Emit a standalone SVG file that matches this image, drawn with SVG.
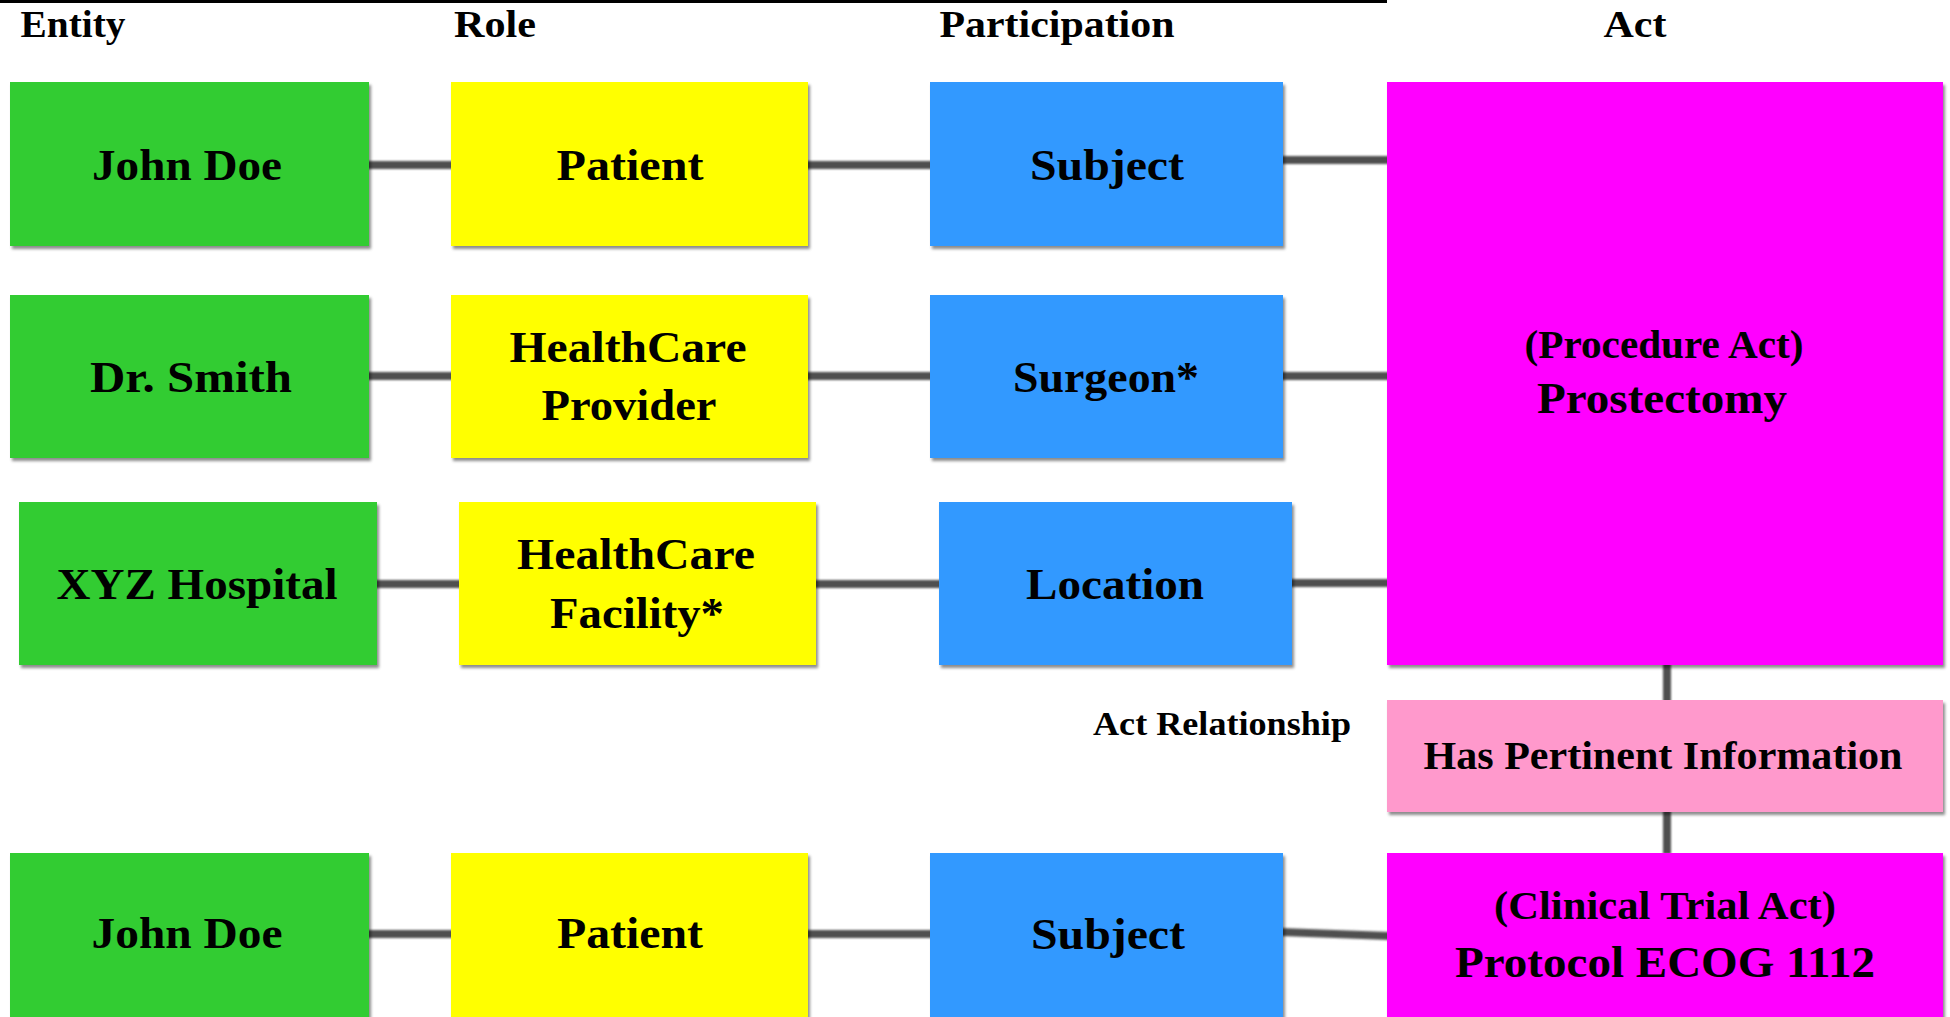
<svg xmlns="http://www.w3.org/2000/svg" width="1950" height="1017" viewBox="0 0 1950 1017">
<defs>
<filter id="sh" x="-5%" y="-5%" width="110%" height="115%">
<feDropShadow dx="2" dy="3" stdDeviation="1.5" flood-color="#000" flood-opacity="0.45"/>
</filter>
<filter id="lsh" x="-5%" y="-50%" width="110%" height="200%">
<feGaussianBlur stdDeviation="0.8"/>
</filter>
</defs>
<style>
text{font-family:"Liberation Serif","Times New Roman",serif;font-weight:bold;fill:#000;text-anchor:middle}
.hd{font-size:37px}
.lb{font-size:45px}
.sm{font-size:39px}
.ar{font-size:33px}
.g{fill:#33CC33}
.y{fill:#FFFF00}
.b{fill:#3399FF}
.m{fill:#FF00FF}
.p{fill:#FF99CC}
.box{filter:url(#sh)}
.c{stroke:#505050;stroke-width:8;fill:none}
</style>
<rect x="0" y="0" width="1950" height="1017" fill="#fff"/>
<line x1="0" y1="1.5" x2="1387" y2="1.5" stroke="#000" stroke-width="3"/>
<g id="headers">
<text class="hd" x="73" y="37" textLength="105" lengthAdjust="spacingAndGlyphs">Entity</text>
<text class="hd" x="495" y="37" textLength="82" lengthAdjust="spacingAndGlyphs">Role</text>
<text class="hd" x="1057" y="37" textLength="235" lengthAdjust="spacingAndGlyphs">Participation</text>
<text class="hd" x="1635" y="37" textLength="63" lengthAdjust="spacingAndGlyphs">Act</text>
</g>
<g id="connectors" filter="url(#lsh)">
<line class="c" x1="367" y1="165" x2="453" y2="165"/>
<line class="c" x1="806" y1="165" x2="932" y2="165"/>
<line class="c" x1="1281" y1="160" x2="1389" y2="160"/>
<line class="c" x1="367" y1="376" x2="453" y2="376"/>
<line class="c" x1="806" y1="376" x2="932" y2="376"/>
<line class="c" x1="1281" y1="376" x2="1389" y2="376"/>
<line class="c" x1="375" y1="584" x2="461" y2="584"/>
<line class="c" x1="814" y1="584" x2="941" y2="584"/>
<line class="c" x1="1290" y1="583" x2="1389" y2="583"/>
<line class="c" x1="367" y1="934" x2="453" y2="934"/>
<line class="c" x1="806" y1="934" x2="932" y2="934"/>
<line class="c" x1="1281" y1="932" x2="1389" y2="936"/>
<line class="c" x1="1667" y1="663" x2="1667" y2="702"/>
<line class="c" x1="1667" y1="810" x2="1667" y2="854"/>
</g>
<g id="n-johndoe1"><rect class="box g" x="10" y="82" width="359" height="164"/><text class="lb" x="187" y="180" textLength="190" lengthAdjust="spacingAndGlyphs">John Doe</text></g>
<g id="n-patient1"><rect class="box y" x="451" y="82" width="357" height="164"/><text class="lb" x="630" y="180" textLength="147" lengthAdjust="spacingAndGlyphs">Patient</text></g>
<g id="n-subject1"><rect class="box b" x="930" y="82" width="353" height="164"/><text class="lb" x="1107" y="180" textLength="154" lengthAdjust="spacingAndGlyphs">Subject</text></g>
<g id="n-prostectomy"><rect class="box m" x="1387" y="82" width="556" height="583"/>
<text class="sm" x="1664" y="358" textLength="279" lengthAdjust="spacingAndGlyphs">(Procedure Act)</text>
<text class="lb" x="1662" y="413" textLength="250" lengthAdjust="spacingAndGlyphs">Prostectomy</text></g>
<g id="n-drsmith"><rect class="box g" x="10" y="295" width="359" height="163"/><text class="lb" x="191" y="392" textLength="202" lengthAdjust="spacingAndGlyphs">Dr. Smith</text></g>
<g id="n-hcprovider"><rect class="box y" x="451" y="295" width="357" height="163"/>
<text class="lb" x="628" y="362" textLength="237" lengthAdjust="spacingAndGlyphs">HealthCare</text>
<text class="lb" x="629" y="420" textLength="175" lengthAdjust="spacingAndGlyphs">Provider</text></g>
<g id="n-surgeon"><rect class="box b" x="930" y="295" width="353" height="163"/><text class="lb" x="1106" y="392" textLength="186" lengthAdjust="spacingAndGlyphs">Surgeon*</text></g>
<g id="n-xyzhospital"><rect class="box g" x="19" y="502" width="358" height="163"/><text class="lb" x="197" y="599" textLength="281" lengthAdjust="spacingAndGlyphs">XYZ Hospital</text></g>
<g id="n-hcfacility"><rect class="box y" x="459" y="502" width="357" height="163"/>
<text class="lb" x="636" y="569" textLength="238" lengthAdjust="spacingAndGlyphs">HealthCare</text>
<text class="lb" x="637" y="628" textLength="174" lengthAdjust="spacingAndGlyphs">Facility*</text></g>
<g id="n-location"><rect class="box b" x="939" y="502" width="353" height="163"/><text class="lb" x="1115" y="599" textLength="178" lengthAdjust="spacingAndGlyphs">Location</text></g>
<g id="l-actrel"><text class="ar" x="1222" y="735" textLength="258" lengthAdjust="spacingAndGlyphs">Act Relationship</text></g>
<g id="n-haspertinent"><rect class="box p" x="1387" y="700" width="556" height="112"/><text class="sm" x="1663" y="769" textLength="479" lengthAdjust="spacingAndGlyphs">Has Pertinent Information</text></g>
<g id="n-johndoe2"><rect class="box g" x="10" y="853" width="359" height="170"/><text class="lb" x="187" y="948" textLength="191" lengthAdjust="spacingAndGlyphs">John Doe</text></g>
<g id="n-patient2"><rect class="box y" x="451" y="853" width="357" height="170"/><text class="lb" x="630" y="948" textLength="146" lengthAdjust="spacingAndGlyphs">Patient</text></g>
<g id="n-subject2"><rect class="box b" x="930" y="853" width="353" height="170"/><text class="lb" x="1108" y="949" textLength="154" lengthAdjust="spacingAndGlyphs">Subject</text></g>
<g id="n-clinicaltrial"><rect class="box m" x="1387" y="853" width="556" height="170"/>
<text class="sm" x="1665" y="919" textLength="342" lengthAdjust="spacingAndGlyphs">(Clinical Trial Act)</text>
<text class="lb" x="1665" y="977" textLength="420" lengthAdjust="spacingAndGlyphs">Protocol ECOG 1112</text></g>
</svg>
